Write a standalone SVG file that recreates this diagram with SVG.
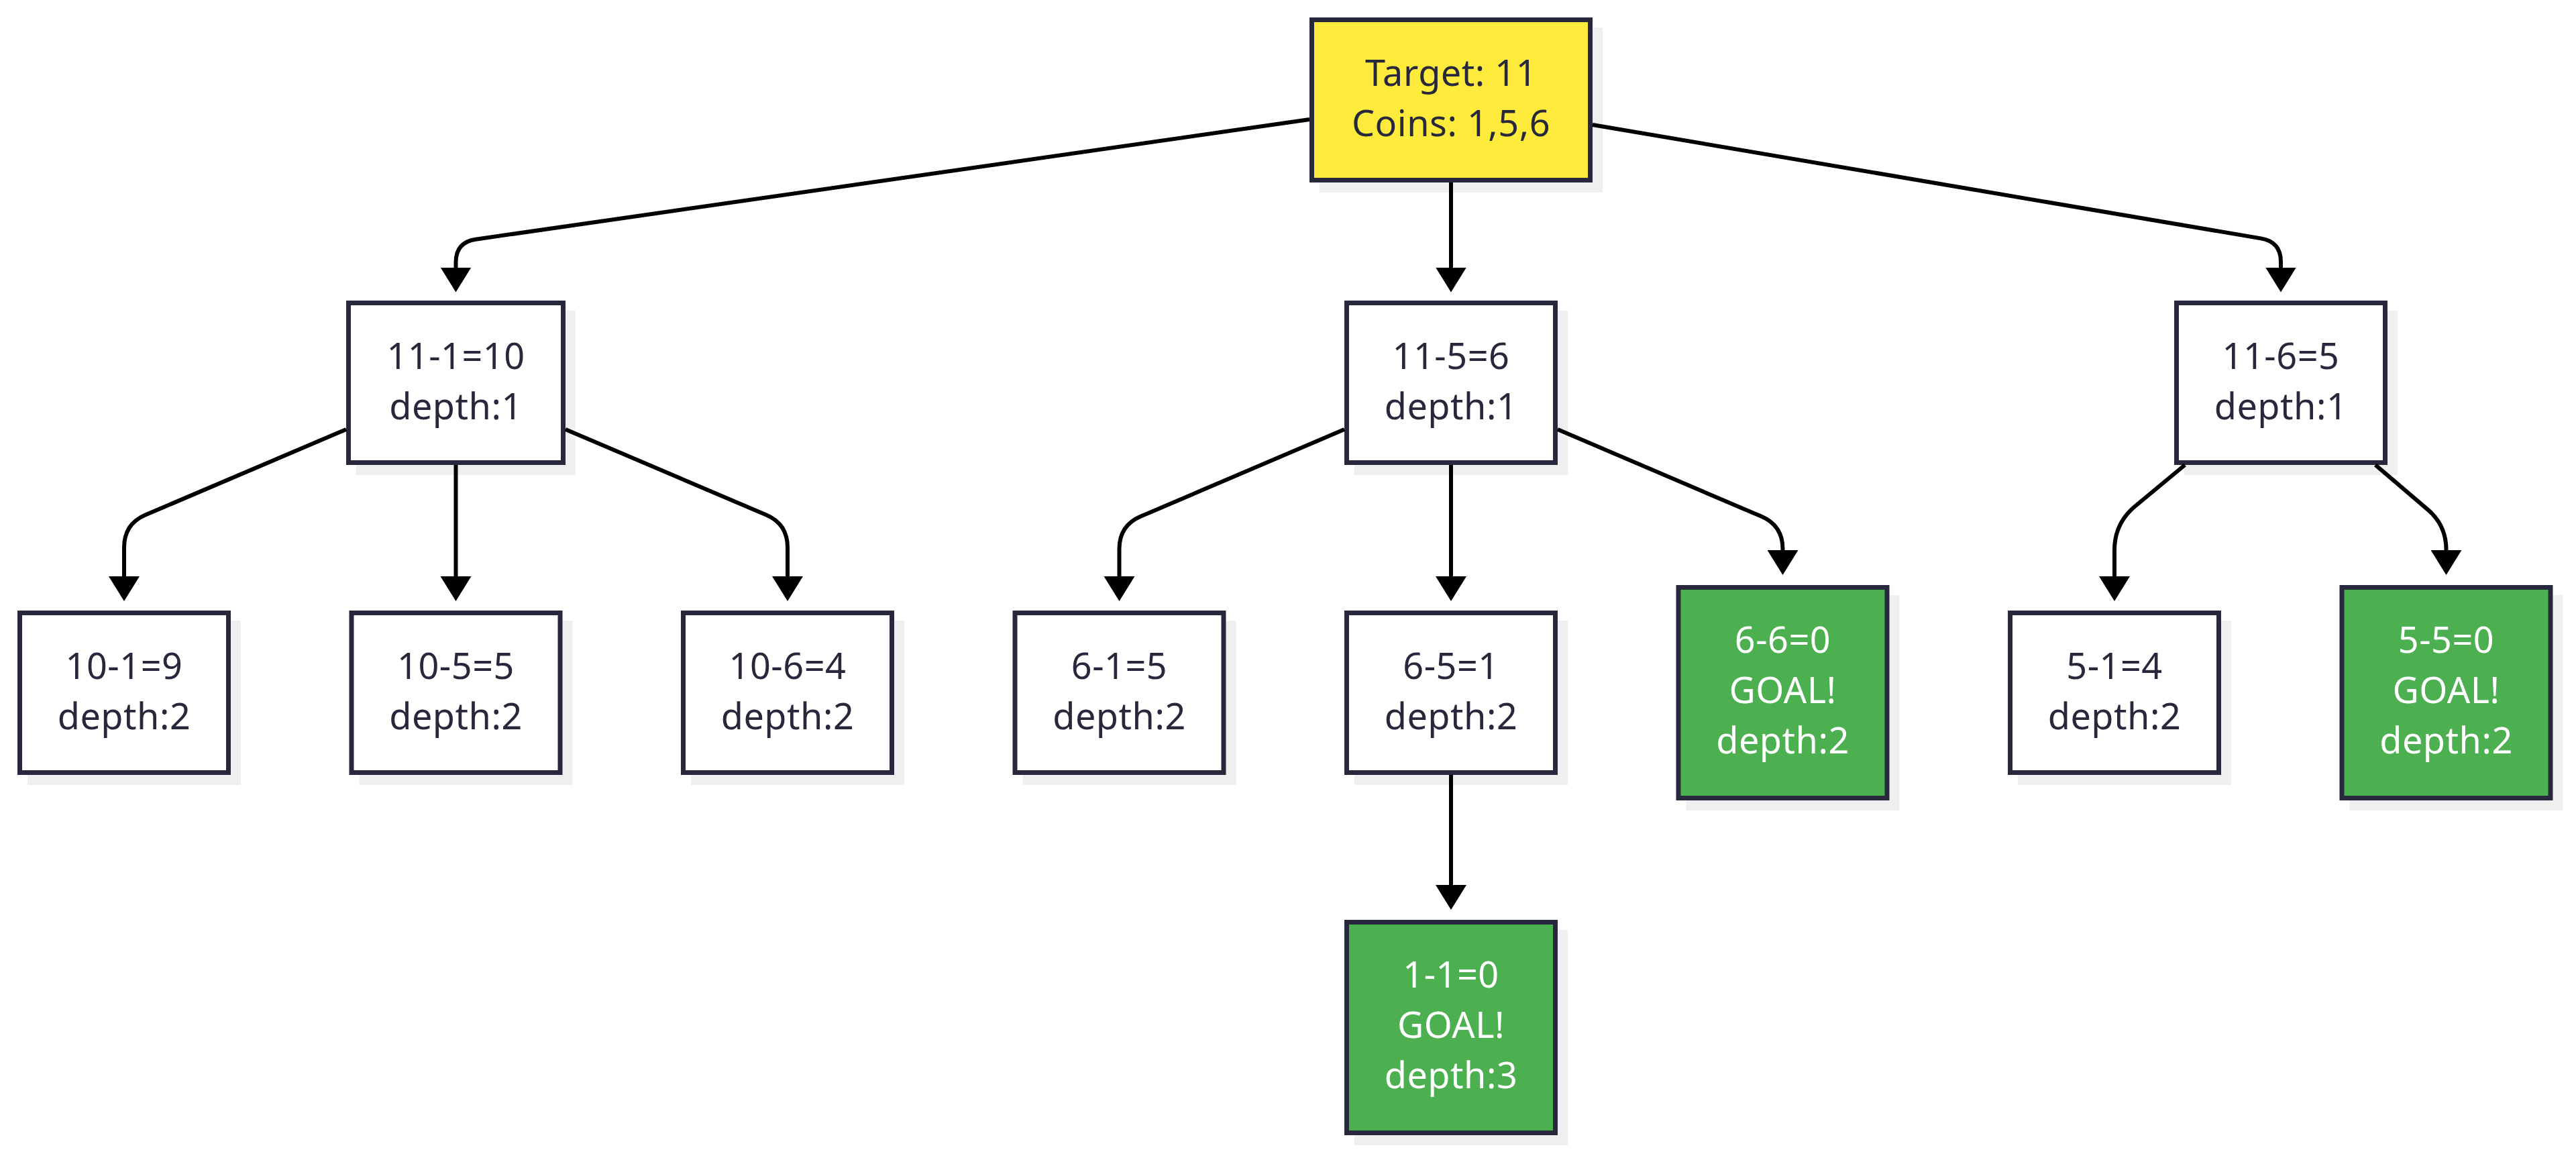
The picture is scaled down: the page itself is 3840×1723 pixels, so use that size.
<svg xmlns="http://www.w3.org/2000/svg" width="3840" height="1723" viewBox="0 0 3840 1723">
<style>
.bg{fill:#ffffff}
.sh{fill:#efefef}
.box{fill:#ffffff;stroke:#28283c;stroke-width:7}
.root{fill:#ffeb3b;stroke:#28283c;stroke-width:7}
.goal{fill:#4caf50;stroke:#28283c;stroke-width:7}
.t{font-family:"Noto Sans","Liberation Sans",sans-serif;font-size:54px;letter-spacing:0.5px;text-anchor:middle;fill:#28283c}
.tw{font-family:"Noto Sans","Liberation Sans",sans-serif;font-size:54px;letter-spacing:0.5px;text-anchor:middle;fill:#ffffff}
.edge{fill:none;stroke:#000000;stroke-width:6;marker-end:url(#arr)}
</style>
<defs>
<marker id="arr" markerUnits="userSpaceOnUse" markerWidth="38" markerHeight="46" viewBox="0 0 38 46" refX="1" refY="23" orient="auto">
<path d="M0,0 L37,23 L0,46 z" fill="#000000"/>
</marker>
</defs>
<rect class="bg" x="0" y="0" width="3840" height="1723"/>

<g id="root">
<rect class="sh" x="1967" y="41" width="422" height="246"/>
<rect class="root" x="1955.5" y="29.5" width="415" height="239"/>
<text class="t" x="2163" y="128">Target: 11</text>
<text class="t" x="2163" y="203">Coins: 1,5,6</text>
</g>

<g id="n11-1">
<rect class="sh" x="531" y="463" width="327" height="245"/>
<rect class="box" x="519.5" y="451.5" width="320" height="238"/>
<text class="t" x="679.5" y="549.5">11-1=10</text>
<text class="t" x="679.5" y="624.5">depth:1</text>
</g>

<g id="n11-5">
<rect class="sh" x="2019" y="463" width="318" height="245"/>
<rect class="box" x="2007.5" y="451.5" width="311" height="238"/>
<text class="t" x="2163" y="549.5">11-5=6</text>
<text class="t" x="2163" y="624.5">depth:1</text>
</g>

<g id="n11-6">
<rect class="sh" x="3256" y="463" width="318" height="245"/>
<rect class="box" x="3244.5" y="451.5" width="311" height="238"/>
<text class="t" x="3400" y="549.5">11-6=5</text>
<text class="t" x="3400" y="624.5">depth:1</text>
</g>

<g id="n10-1">
<rect class="sh" x="41" y="925" width="318" height="245"/>
<rect class="box" x="29.5" y="913.5" width="311" height="238"/>
<text class="t" x="185" y="1011.5">10-1=9</text>
<text class="t" x="185" y="1086.5">depth:2</text>
</g>

<g id="n10-5">
<rect class="sh" x="535.5" y="925" width="318" height="245"/>
<rect class="box" x="524" y="913.5" width="311" height="238"/>
<text class="t" x="679.5" y="1011.5">10-5=5</text>
<text class="t" x="679.5" y="1086.5">depth:2</text>
</g>

<g id="n10-6">
<rect class="sh" x="1030" y="925" width="318" height="245"/>
<rect class="box" x="1018.5" y="913.5" width="311" height="238"/>
<text class="t" x="1174" y="1011.5">10-6=4</text>
<text class="t" x="1174" y="1086.5">depth:2</text>
</g>

<g id="n6-1">
<rect class="sh" x="1524.5" y="925" width="318" height="245"/>
<rect class="box" x="1513" y="913.5" width="311" height="238"/>
<text class="t" x="1668.5" y="1011.5">6-1=5</text>
<text class="t" x="1668.5" y="1086.5">depth:2</text>
</g>

<g id="n6-5">
<rect class="sh" x="2019" y="925" width="318" height="245"/>
<rect class="box" x="2007.5" y="913.5" width="311" height="238"/>
<text class="t" x="2163" y="1011.5">6-5=1</text>
<text class="t" x="2163" y="1086.5">depth:2</text>
</g>

<g id="n6-6">
<rect class="sh" x="2513.5" y="887" width="318" height="321"/>
<rect class="goal" x="2502" y="875.5" width="311" height="314"/>
<text class="tw" x="2657.5" y="972.5">6-6=0</text>
<text class="tw" x="2657.5" y="1047.5">GOAL!</text>
<text class="tw" x="2657.5" y="1122.5">depth:2</text>
</g>

<g id="n5-1">
<rect class="sh" x="3008" y="925" width="318" height="245"/>
<rect class="box" x="2996.5" y="913.5" width="311" height="238"/>
<text class="t" x="3152" y="1011.5">5-1=4</text>
<text class="t" x="3152" y="1086.5">depth:2</text>
</g>

<g id="n5-5">
<rect class="sh" x="3502.5" y="887" width="318" height="321"/>
<rect class="goal" x="3491" y="875.5" width="311" height="314"/>
<text class="tw" x="3646.5" y="972.5">5-5=0</text>
<text class="tw" x="3646.5" y="1047.5">GOAL!</text>
<text class="tw" x="3646.5" y="1122.5">depth:2</text>
</g>

<g id="n1-1">
<rect class="sh" x="2019" y="1386" width="318" height="321"/>
<rect class="goal" x="2007.5" y="1374.5" width="311" height="314"/>
<text class="tw" x="2163" y="1471.5">1-1=0</text>
<text class="tw" x="2163" y="1546.5">GOAL!</text>
<text class="tw" x="2163" y="1621.5">depth:3</text>
</g>

<g id="connectors">
<path class="edge" d="M1952,178 L709.2,356.7 Q679.5,361 679.5,391 L679.5,399.5"/>
<path class="edge" d="M2163,272 L2163,399.5"/>
<path class="edge" d="M2374,186 L3370.4,355.4 Q3400,360.4 3400,390.4 L3400,399.5"/>
<path class="edge" d="M516,640 L217.2,767.3 Q185,781 185,816 L185,860"/>
<path class="edge" d="M679.5,693 L679.5,860"/>
<path class="edge" d="M843,640 L1141.8,767.3 Q1174,781 1174,816 L1174,860"/>
<path class="edge" d="M2004,640 L1700.7,769.6 Q1668.5,783.3 1668.5,818.3 L1668.5,860"/>
<path class="edge" d="M2163,693 L2163,860"/>
<path class="edge" d="M2322,640 L2625.3,769.6 Q2657.5,783.3 2657.5,818.3 L2657.5,821"/>
<path class="edge" d="M3257,693 L3182.8,754.5 Q3152,780 3152,820 L3152,860"/>
<path class="edge" d="M3541,693 L3619.1,759.6 Q3646.5,783 3646.5,819 L3646.5,821"/>
<path class="edge" d="M2163,1155 L2163,1320"/>
</g>
</svg>
